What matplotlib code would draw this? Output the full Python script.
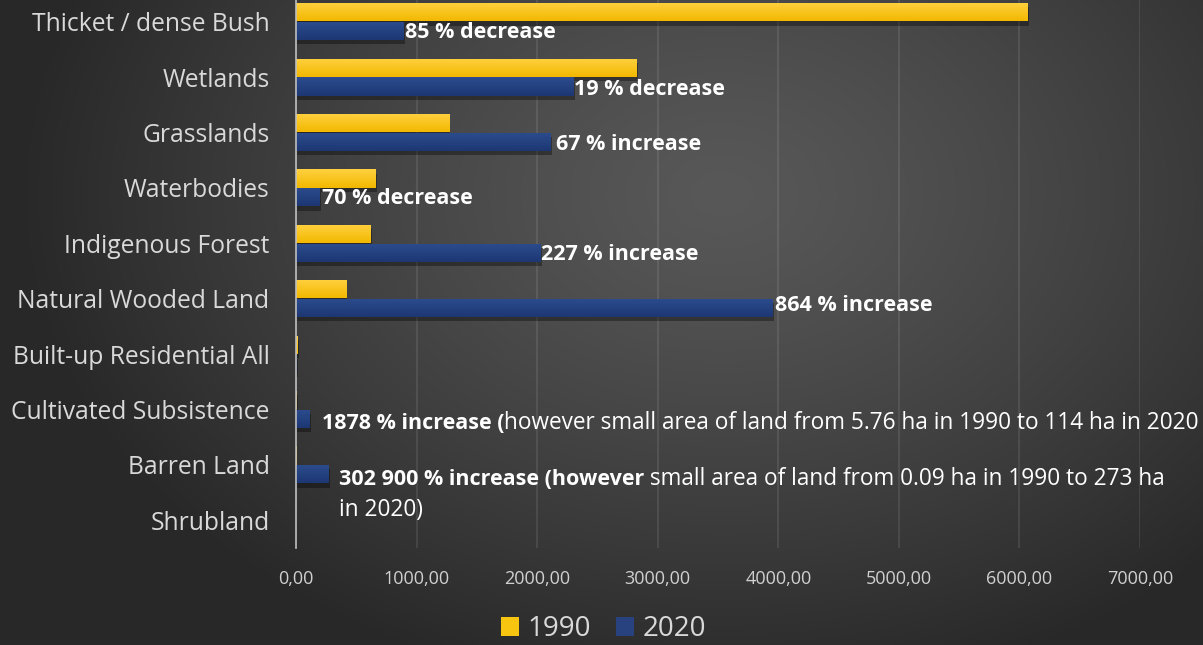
import numpy as np
import matplotlib
matplotlib.use("Agg")
import matplotlib.pyplot as plt
from matplotlib.patches import Rectangle
import matplotlib.patheffects as pe

categories = ["Shrubland", "Barren Land", "Cultivated Subsistence", "Built-up Residential All",
              "Natural Wooded Land", "Indigenous Forest", "Waterbodies", "Grasslands",
              "Wetlands", "Thicket / dense Bush"]
v1990 = [0, 0.09, 5.76, 14, 415, 620, 663, 1269, 2828, 6070]
v2020 = [0, 273, 114, 8, 3950, 2025, 199, 2114, 2300, 895]
xticks = [0, 1000, 2000, 3000, 4000, 5000, 6000, 7000]
xtick_labels = ["0,00", "1000,00", "2000,00", "3000,00", "4000,00", "5000,00", "6000,00", "7000,00"]
series_names = ["1990", "2020"]

notes = {
    9: [("85 % decrease", True)],
    8: [("19 % decrease", True)],
    7: [("67 % increase", True)],
    6: [("70 % decrease", True)],
    5: [("227 % increase", True)],
    4: [("864 % increase", True)],
    2: [("1878 % increase (", True),
        ("however small area of land from 5.76 ha in 1990 to 114 ha in 2020", False)],
    1: [("302 900 % increase (however", True),
        (" small area of land from 0.09 ha in 1990 to 273 ha", False)],
}

FONT = "Open Sans"
plt.rcParams['font.family'] = [FONT, 'DejaVu Sans']

W, H = 1203, 645
fig = plt.figure(figsize=(W / 100, H / 100), dpi=100)

# background radial gradient
bg = fig.add_axes([0, 0, 1, 1])
bg.set_axis_off()
yy, xx = np.mgrid[0:H, 0:W]
cx, cy = 0.60 * W, 0.30 * H
r = np.sqrt(((xx - cx) / (0.58 * W)) ** 2 + ((yy - cy) / (0.78 * H)) ** 2)
r = np.clip(r, 0, 1)
light, dark = 0.345, 0.16
val = light - (light - dark) * r ** 1.25
img = np.dstack([val, val, val])
bg.imshow(img, extent=[0, 1, 0, 1], aspect='auto', origin='upper')
bg.set_xlim(0, 1)
bg.set_ylim(0, 1)

# main axes
x0, x1 = 296, 1140
ybot, ytop = 548, -6
ax = fig.add_axes([x0 / W, (H - ybot) / H, (x1 - x0) / W, (ybot - ytop) / H])
ax.patch.set_alpha(0)

yidx = np.arange(len(categories))
bh = 0.33
off = 0.17


def grad_bar(y, w, top_c, bot_c, zorder):
    b = ax.barh(y, w, height=bh, color=bot_c, zorder=zorder, linewidth=0,
                path_effects=[pe.SimplePatchShadow(offset=(1, -3), shadow_rgbFace='black', alpha=0.35),
                              pe.Normal()])
    for rect, wi in zip(b, w):
        if wi <= 0:
            continue
        grad = np.linspace(0, 1, 32).reshape(-1, 1, 1)
        tc = np.array(matplotlib.colors.to_rgb(top_c)).reshape(1, 1, 3)
        bc = np.array(matplotlib.colors.to_rgb(bot_c)).reshape(1, 1, 3)
        g = tc * (1 - grad) + bc * grad
        g = np.repeat(g, 2, axis=1)
        yb = rect.get_y()
        im = ax.imshow(g, extent=[0, wi, yb, yb + rect.get_height()], aspect='auto',
                       origin='upper', zorder=zorder + 0.1, interpolation='bilinear')
        im.set_clip_path(rect)
    return b


grad_bar(yidx + off, v1990, '#FFD040', '#F2B900', 3)
grad_bar(yidx - off, v2020, '#2C4C8E', '#1D3773', 3)
ax.set_xlim(0, 7000)
ax.set_ylim(-0.5, len(categories) - 0.5)

ax.set_yticks(yidx)
ax.set_yticklabels(categories, fontsize=17.7, color='#d9d9d9')
ax.set_xticks(xticks)
ax.set_xticklabels(xtick_labels, fontsize=13, color='#d0d0d0')
ax.tick_params(axis='y', length=0, pad=19)
ax.tick_params(axis='x', length=0, pad=16)
ax.grid(axis='x', color='white', alpha=0.11, linewidth=1.2, zorder=0)
ax.set_axisbelow(True)
for s in ['top', 'right', 'bottom']:
    ax.spines[s].set_visible(False)
ax.spines['left'].set_color('#bfbfbf')
ax.spines['left'].set_linewidth(1.2)
ax.spines['left'].set_zorder(5)

# annotations
ann_fs = 15.5
ann_fs_n = 16.3
dx_px = {9: 1, 8: 1, 7: 5, 6: 2, 5: 1, 4: 3, 2: 12, 1: 10}
dy_px = {9: -1, 8: -3, 7: -3, 6: -1, 5: -2, 4: 3}
base_dy = {2: -10, 1: -11}
renderer = fig.canvas.get_renderer()
for ci, parts in notes.items():
    xv = v2020[ci]
    if len(parts) == 1:
        txt, bold = parts[0]
        ax.annotate(txt, xy=(xv, ci - off), xytext=(dx_px[ci], dy_px[ci]),
                    textcoords='offset pixels', ha='left', va='center',
                    fontsize=ann_fs, fontweight='bold', color='white', zorder=10)
        continue
    xoff = dx_px[ci]
    for txt, bold in parts:
        fs = ann_fs if bold else ann_fs_n
        t = ax.annotate(txt, xy=(xv, ci - off), xytext=(xoff, base_dy[ci]),
                        textcoords='offset pixels', ha='left', va='baseline',
                        fontsize=fs, fontweight='bold' if bold else 'normal',
                        color='white', zorder=10)
        tw = t.get_window_extent(renderer).width
        xoff += tw
    if ci == 1:
        ax.annotate("in 2020)", xy=(xv, ci - off), xytext=(dx_px[ci], base_dy[ci] - 31),
                    textcoords='offset pixels', ha='left', va='baseline',
                    fontsize=ann_fs_n, color='white', zorder=10)

# legend
handles = [Rectangle((0, 0), 1, 1, facecolor='#F7C410', edgecolor='none'),
           Rectangle((0, 0), 1, 1, facecolor='#27427F', edgecolor='none')]
leg = fig.legend(handles, series_names, loc='center', bbox_to_anchor=(603.5 / W, (H - 629) / H),
                 ncol=2, frameon=False, fontsize=20, handlelength=0.65, handleheight=0.68,
                 handletextpad=0.3, columnspacing=0.9, labelcolor='#d9d9d9')

fig.savefig("out.png", dpi=100)
